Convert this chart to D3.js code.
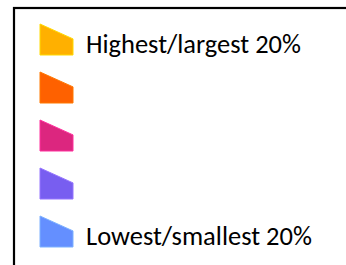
<!DOCTYPE html>
<html lang="en">
<head>
<meta charset="utf-8">
<script src="https://d3js.org/d3.v7.min.js"></script>
<style type="text/css">
	body{ margin:0; background:#fff; }
</style>
</head>
<body>
<script type="text/javascript">
	// legend entries, top to bottom
	var categories = ["q5", "q4", "q3", "q2", "q1"];
	var labels = ["Highest/largest 20%", "", "", "", "Lowest/smallest 20%"];
	var colors = ["#FFB000", "#FE6100", "#DC267F", "#785EF0", "#648FFF"];

	var width = 346, height = 265;
	var svg = d3.select("body").append("svg")
		.attr("width", width)
		.attr("height", height);

	// frame (runs off the right and bottom edges)
	svg.append("rect")
		.attr("x", 14).attr("y", 8)
		.attr("width", 400).attr("height", 400)
		.attr("fill", "none")
		.attr("stroke", "#000")
		.attr("stroke-width", 2.2);

	var y = d3.scalePoint().domain(categories).range([24, 216]);
	var sw = 33, sh = 31; // swatch box

	var rows = svg.selectAll("g.row")
		.data(categories)
		.enter().append("g")
		.attr("class", "row")
		.attr("transform", function(d){ return "translate(40," + y(d) + ")"; });

	rows.append("path")
		.attr("d", "M0,0L" + sw + "," + (sh*0.48) + "L" + sw + "," + sh + "L0," + sh + "Z")
		.attr("fill", function(d,i){ return colors[i]; })
		.attr("stroke", function(d,i){ return d3.color(colors[i]).brighter(0.6); })
		.attr("stroke-width", 1);

	var targetW = [215, 0, 0, 0, 226];
	rows.append("text")
		.attr("x", 46)
		.attr("y", 29)
		.style("font-family", "Carlito, Calibri, Lato, sans-serif")
		.style("font-size", "26px")
		.attr("fill", "#000")
		.text(function(d,i){ return labels[i]; })
		.each(function(d,i){
			if (!labels[i]) return;
			var w = this.getComputedTextLength();
			var fs = 26 * targetW[i] / w;
			d3.select(this).style("font-size", fs + "px");
		});
</script>
</body>
</html>
